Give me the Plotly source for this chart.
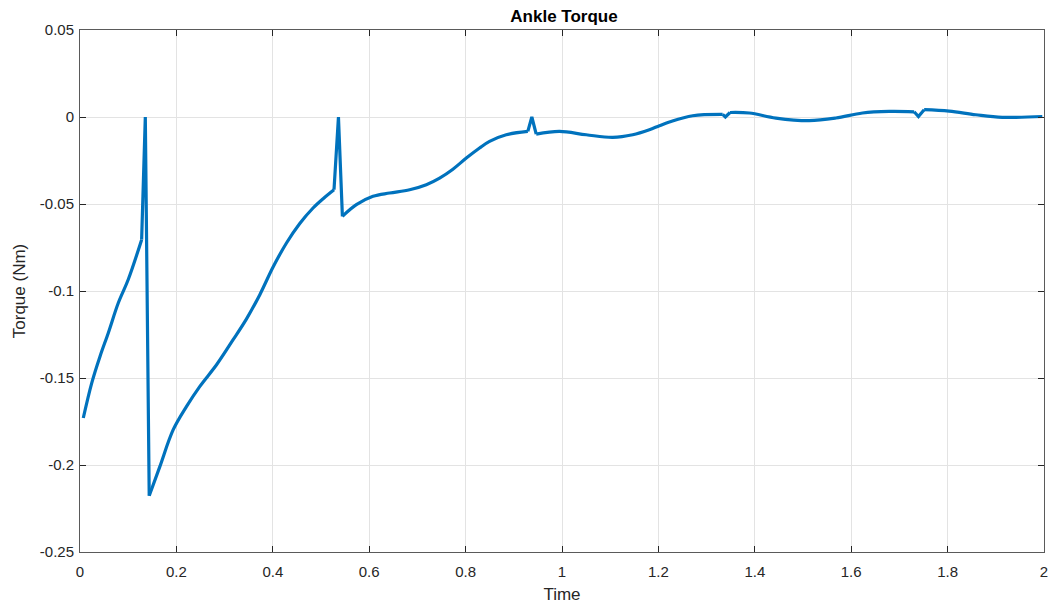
import plotly.graph_objects as go

time = [0.0068, 0.0243, 0.0415, 0.0587, 0.0794, 0.1001, 0.1279, 0.1355, 0.1436, 0.1658,
        0.1934, 0.2211, 0.2487, 0.2833, 0.3177, 0.3455, 0.3731, 0.4006, 0.4284, 0.4560,
        0.4835, 0.5050, 0.5270, 0.5362, 0.5444, 0.5734, 0.6079, 0.6425, 0.6839, 0.7185,
        0.7461, 0.7737, 0.8015, 0.8290, 0.8497, 0.8843, 0.9291, 0.9374, 0.9465, 0.9948,
        1.0502, 1.1053, 1.1467, 1.1813, 1.2021, 1.2228, 1.2711, 1.3333, 1.3389, 1.3486,
        1.3886, 1.4439, 1.5130, 1.5683, 1.6234, 1.6788, 1.7306, 1.7395, 1.7513, 1.8031,
        1.8584, 1.9136, 1.9965]
torque = [-0.1730, -0.1529, -0.1376, -0.1241, -0.1069, -0.0934, -0.0705, 0.0, -0.2177, -0.2008,
          -0.1797, -0.1663, -0.1548, -0.1424, -0.1280, -0.1160, -0.1021, -0.0862, -0.0724, -0.0612,
          -0.0523, -0.0468, -0.0418, 0.0, -0.0571, -0.0504, -0.0456, -0.0437, -0.0418, -0.0389,
          -0.0351, -0.0300, -0.0236, -0.0178, -0.0140, -0.0102, -0.0083, 0.0, -0.0098, -0.0083,
          -0.0102, -0.0117, -0.0102, -0.0073, -0.0050, -0.0029, 0.0007, 0.0015, 0.0, 0.0026,
          0.0023, -0.0006, -0.0021, -0.0006, 0.0023, 0.0032, 0.0030, 0.0003, 0.0042, 0.0034,
          0.0013, -0.0002, 0.0003]
# indices of the sharp spike/dip apexes (impact events)
spike_idx = [7, 23, 37, 48, 57]

xtick_vals = [0, 0.2, 0.4, 0.6, 0.8, 1.0, 1.2, 1.4, 1.6, 1.8, 2.0]
xtick_text = ["0", "0.2", "0.4", "0.6", "0.8", "1", "1.2", "1.4", "1.6", "1.8", "2"]
ytick_vals = [0.05, 0, -0.05, -0.1, -0.15, -0.2, -0.25]
ytick_text = ["0.05", "0", "-0.05", "-0.1", "-0.15", "-0.2", "-0.25"]

FONT = "Liberation Sans, Arial, Helvetica"
LINE = dict(color="#0072BD", width=3.2)

fig = go.Figure()
# smooth stretches between the impact spikes
bounds = [0] + spike_idx + [len(time) - 1]
for k in range(len(bounds) - 1):
    a = bounds[k] + (1 if k > 0 else 0)
    b = bounds[k + 1] - (1 if k < len(bounds) - 2 else 0)
    fig.add_trace(go.Scatter(x=time[a:b + 1], y=torque[a:b + 1], mode="lines",
                             line=dict(LINE, shape="spline", smoothing=1.0),
                             showlegend=False, hoverinfo="x+y"))
# sharp spikes
for i in spike_idx:
    fig.add_trace(go.Scatter(x=time[i - 1:i + 2], y=torque[i - 1:i + 2], mode="lines",
                             line=LINE, showlegend=False, hoverinfo="x+y"))

axis_common = dict(showline=True, linecolor="#5a5a5a", linewidth=1, mirror="ticks",
                   ticks="inside", ticklen=6, tickcolor="#262626",
                   showgrid=True, gridcolor="#e3e3e3", gridwidth=1, zeroline=False,
                   ticklabeloverflow="allow",
                   tickfont=dict(family=FONT, size=15, color="#262626"))

fig.update_xaxes(range=[0, 2], tickvals=xtick_vals, ticktext=xtick_text,
                 ticklabelstandoff=6,
                 title=dict(text="Time", font=dict(family=FONT, size=17, color="#262626"),
                            standoff=9),
                 **axis_common)
fig.update_yaxes(range=[-0.25, 0.05], tickvals=ytick_vals, ticktext=ytick_text,
                 ticklabelstandoff=2,
                 title=dict(text="Torque (Nm)", font=dict(family=FONT, size=17, color="#262626"),
                            standoff=9),
                 **axis_common)

fig.update_layout(
    width=1053, height=606,
    margin=dict(l=80, r=5, t=30, b=51),
    paper_bgcolor="white", plot_bgcolor="white",
    title=dict(text="<b>Ankle Torque</b>", x=(80 + 1048) / 2 / 1053, xanchor="center",
               y=1 - 16 / 606, yanchor="middle",
               font=dict(family=FONT, size=17, color="#000000")),
)

fig.write_html("out.html")
